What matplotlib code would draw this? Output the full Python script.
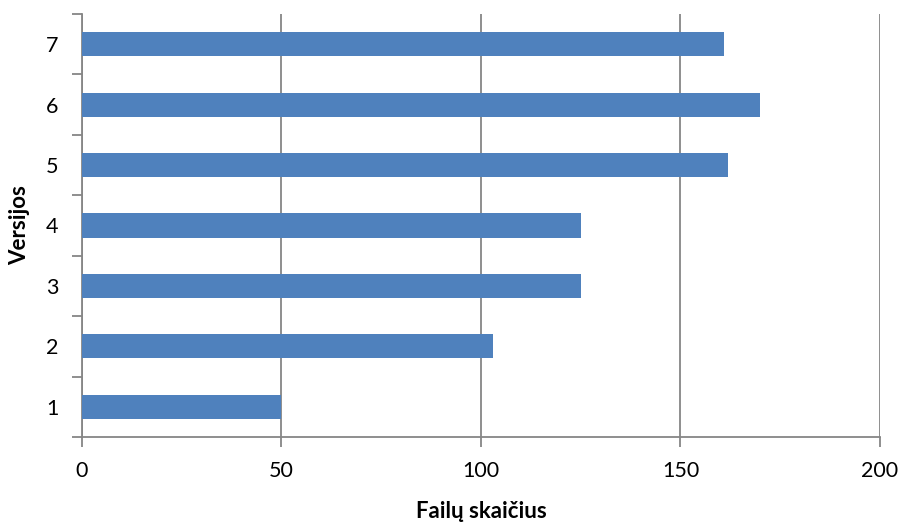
import matplotlib
matplotlib.use("Agg")
import matplotlib.pyplot as plt

# File counts per version
versions = ["1", "2", "3", "4", "5", "6", "7"]
file_counts = [50, 103, 125, 125, 162, 170, 161]
x_ticks = [0, 50, 100, 150, 200]

plt.rcParams["font.family"] = ["Lato", "DejaVu Sans"]

fig = plt.figure(figsize=(9.03, 5.26), dpi=100)
ax = fig.add_axes([0.0908, 0.1692, 0.8837, 0.8042])

grid_color = "#868686"
positions = list(range(len(versions)))
ax.barh(positions, file_counts, height=0.4, color="#4F81BD", zorder=3)

ax.set_xlim(0, 200)
ax.set_ylim(-0.5, len(versions) - 0.5)
ax.set_xticks(x_ticks)
ax.set_xticklabels([str(t) for t in x_ticks])
ax.set_yticks(positions)
ax.set_yticklabels(versions)

# Tick marks at category boundaries on the y axis
ax.set_yticks([p - 0.5 for p in range(len(versions) + 1)], minor=True)
ax.tick_params(axis="y", which="major", length=0, pad=17, labelsize=15.5)
ax.tick_params(axis="y", which="minor", length=7, width=1.3, color=grid_color, direction="out")
ax.tick_params(axis="x", which="major", length=7, width=1.3, color=grid_color, direction="out",
               pad=10, labelsize=15.5)

ax.grid(axis="x", color=grid_color, linewidth=1.3, zorder=0)
for side in ["top", "right"]:
    ax.spines[side].set_visible(False)
for side in ["left", "bottom"]:
    ax.spines[side].set_color(grid_color)
    ax.spines[side].set_linewidth(1.3)

ax.set_xlabel("Failų skaičius", fontsize=16, fontweight="bold", labelpad=15)
ax.set_ylabel("Versijos", fontsize=16, fontweight="bold", labelpad=11)

fig.savefig("out.png", dpi=100)
